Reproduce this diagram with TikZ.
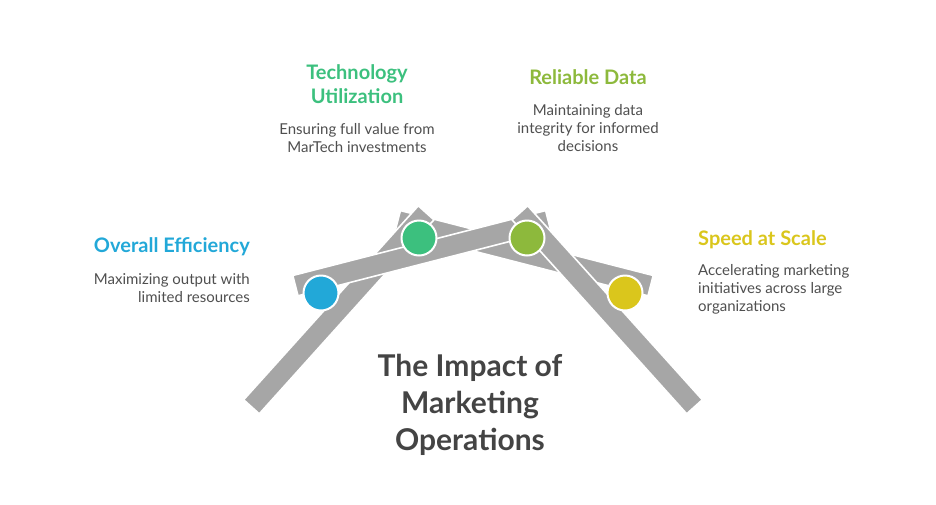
\documentclass[tikz,border=0pt]{standalone}
\usepackage{fontspec}
\setmainfont{Lato}
\usepackage{tikz}
\usetikzlibrary{positioning}

\definecolor{barGray}{HTML}{A6A6A6}
\definecolor{effBlue}{HTML}{22A8D8}
\definecolor{techGreen}{HTML}{3CC07E}
\definecolor{dataOlive}{HTML}{8DB93C}
\definecolor{speedYellow}{HTML}{DAC61C}
\definecolor{descGray}{HTML}{4F4F4F}
\definecolor{titleGray}{HTML}{444444}

\begin{document}
\begin{tikzpicture}[x=1pt, y=-1pt,
    bar/.style={rectangle, fill=barGray, draw=white, line width=1.6pt,
      minimum width=261pt, minimum height=21pt, inner sep=0pt},
    dot/.style={circle, draw=white, line width=2pt, minimum size=35pt, inner sep=0pt},
    head/.style={font=\fontsize{20}{24}\selectfont\bfseries, inner sep=0pt},
    desc/.style={font=\fontsize{15}{18}\selectfont, text=descGray, inner sep=0pt},
    ]

    \useasboundingbox (0,0) rectangle (936,504);

    % Define the frame
    \node[bar, rotate=-14.4] (rbeam) at (524.2,253.2) {};
    \node[bar, rotate=48]    (larm)  at (338.8,309.8) {};
    \node[bar, rotate=14.4]  (lbeam) at (421.8,253.2) {};
    \node[bar, rotate=-48]   (rarm)  at (607.2,309.8) {};

    % Define the joints
    \node[dot, fill=effBlue]     (effdot)   at (321,293) {};
    \node[dot, fill=techGreen]   (techdot)  at (419,238) {};
    \node[dot, fill=dataOlive]   (datadot)  at (527,238) {};
    \node[dot, fill=speedYellow] (speeddot) at (625,293) {};

    % Define the labels
    \node[head, text=techGreen, align=center] (tech) at (357,84) {Technology\\Utilization};
    \node[desc, align=center, below=20pt of tech] (techtxt) {Ensuring full value from\\MarTech investments};

    \node[head, text=dataOlive] (data) at (588,77) {Reliable Data};
    \node[desc, align=center, below=20pt of data] (datatxt) {Maintaining data\\integrity for informed\\decisions};

    \node[head, text=effBlue, anchor=east] (eff) at (250,247) {Overall Efficiency};
    \node[desc, align=right, below=17pt of eff.south east, anchor=north east] (efftxt) {Maximizing output with\\limited resources};

    \node[head, text=speedYellow, anchor=west] (speed) at (698,240) {Speed at Scale};
    \node[desc, align=left, below=15pt of speed.south west, anchor=north west] (speedtxt) {Accelerating marketing\\initiatives across large\\organizations};

    \node[font=\fontsize{30}{37}\selectfont\bfseries, text=titleGray, align=center, inner sep=0pt]
      (title) at (470,405) {The Impact of\\Marketing\\Operations};

\end{tikzpicture}
\end{document}
